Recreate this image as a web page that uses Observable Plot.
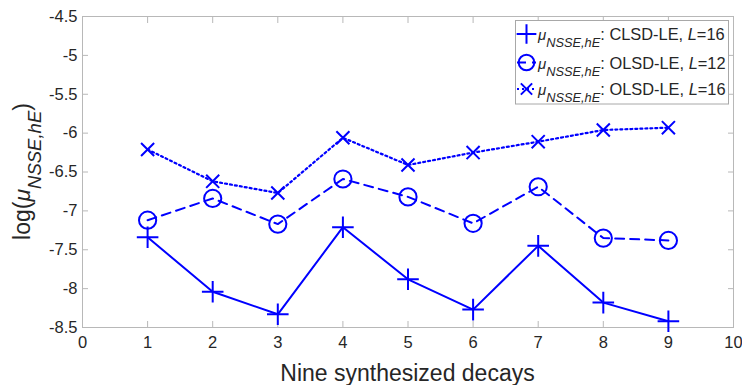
<!DOCTYPE html>
<html>
<head>
<meta charset="utf-8">
<script src="https://cdn.jsdelivr.net/npm/d3@7"></script>
<script src="https://cdn.jsdelivr.net/npm/@observablehq/plot@0.6"></script>
<style>
  body { margin: 0; background: #fff; }
  #chart { width: 742px; height: 385px; }
</style>
</head>
<body>
<div id="chart"></div>
<script>
// ---- data ----
const decays = [1, 2, 3, 4, 5, 6, 7, 8, 9];
const clsdL16 = [-7.34, -8.04, -8.33, -7.21, -7.88, -8.27, -7.45, -8.18, -8.42];
const olsdL12 = [-7.12, -6.84, -7.17, -6.59, -6.82, -7.16, -6.69, -7.35, -7.38];
const olsdL16 = [-6.21, -6.62, -6.77, -6.06, -6.41, -6.25, -6.11, -5.96, -5.93];
const xTicks = [0, 1, 2, 3, 4, 5, 6, 7, 8, 9, 10];
const yTicks = [-8.5, -8, -7.5, -7, -6.5, -6, -5.5, -5, -4.5];
const seriesMethod = ["CLSD-LE", "OLSD-LE", "OLSD-LE"];
const seriesL = ["16", "12", "16"];
const seriesSymbol = ["plus", "circle", "times"];
const seriesDash = [null, "9,6", "2,3"];
const xLabel = "Nine synthesized decays";

const BLUE = "#0000ff";
const AXIS = "#b8b8b8";
const TEXT = "#262626";
const FONT = "'Liberation Sans', Arial, Helvetica, sans-serif";

const seriesValues = [clsdL16, olsdL12, olsdL16];
const tables = seriesValues.map(vals => decays.map((d, i) => ({x: d, y: vals[i]})));
const symbolR = [7, 8.6, 6];
const lineW = [2, 2, 2.2];

const marks = [
  Plot.frame({stroke: AXIS}),
  Plot.axisX(xTicks, {anchor: "bottom", tickSize: -6, tickFormat: () => "", color: AXIS, label: null}),
  Plot.axisX(xTicks, {anchor: "top", tickSize: -6, tickFormat: () => "", color: AXIS, label: null}),
  Plot.axisY(yTicks, {anchor: "left", tickSize: -6, tickFormat: () => "", color: AXIS, label: null}),
  Plot.axisY(yTicks, {anchor: "right", tickSize: -6, tickFormat: () => "", color: AXIS, label: null}),
  Plot.axisX(xTicks, {anchor: "bottom", tickSize: 0, tickPadding: 9, tickFormat: d => String(d), color: TEXT, label: null}),
  Plot.axisY(yTicks, {anchor: "left", tickSize: 0, tickPadding: 5, tickFormat: d => String(d), color: TEXT, label: null})
];
tables.forEach((t, k) => {
  marks.push(Plot.line(t, {x: "x", y: "y", stroke: BLUE, strokeWidth: lineW[k], strokeDasharray: seriesDash[k]}));
  marks.push(Plot.dot(t, {x: "x", y: "y", symbol: seriesSymbol[k], r: symbolR[k], stroke: BLUE, strokeWidth: 2, fill: "none"}));
});

const svgEl = Plot.plot({
  width: 742,
  height: 385,
  marginLeft: 82,
  marginRight: 9,
  marginTop: 16,
  marginBottom: 58,
  style: {fontFamily: FONT, fontSize: "16.5px", color: TEXT, background: "white", overflow: "visible"},
  x: {domain: [0, 10], label: null},
  y: {domain: [-8.5, -4.5], label: null},
  marks
});
document.getElementById("chart").appendChild(svgEl);

const svg = d3.select(svgEl);

// x axis title
svg.append("text")
  .attr("x", (82 + 733) / 2).attr("y", 381)
  .attr("text-anchor", "middle")
  .attr("font-family", FONT).attr("font-size", 23).attr("fill", TEXT)
  .text(xLabel);

// y axis title: log(μ_{NSSE,hE})
const yl = svg.append("text")
  .attr("transform", "translate(30,171.5) rotate(-90)")
  .attr("text-anchor", "middle")
  .attr("font-family", FONT).attr("font-size", 23).attr("fill", TEXT);
yl.append("tspan").text("log(");
yl.append("tspan").attr("font-style", "italic").text("μ");
yl.append("tspan").attr("font-style", "italic").attr("font-size", 18.5).attr("dy", 11).text("NSSE,hE");
yl.append("tspan").attr("dy", -11).text(")");

// legend
const lg = svg.append("g").attr("text-anchor", "start");
lg.append("rect")
  .attr("x", 515.5).attr("y", 20.5).attr("width", 213).attr("height", 83.5)
  .attr("fill", "white").attr("stroke", "#a8a8a8").attr("stroke-width", 1);
const rowBase = [40, 68.5, 95];
const symPath = {
  plus: d3.symbol(d3.symbolPlus, Math.PI * 6.4 * 6.4)(),
  circle: d3.symbol(d3.symbolCircle, Math.PI * 7.8 * 7.8)(),
  times: d3.symbol(d3.symbolTimes, Math.PI * 5.2 * 5.2)()
};
seriesMethod.forEach((m, k) => {
  const cy = rowBase[k] - 6;
  lg.append("line").attr("x1", 517).attr("x2", 536).attr("y1", cy).attr("y2", cy)
    .attr("stroke", BLUE).attr("stroke-width", lineW[k]).attr("stroke-dasharray", seriesDash[k]);
  lg.append("path").attr("d", symPath[seriesSymbol[k]]).attr("transform", `translate(526.5,${cy})`)
    .attr("fill", "none").attr("stroke", BLUE).attr("stroke-width", 2);
  const t = lg.append("text").attr("x", 538).attr("y", rowBase[k])
    .attr("text-anchor", "start")
    .attr("font-family", FONT).attr("font-size", 16.4).attr("fill", TEXT);
  t.append("tspan").attr("font-style", "italic").attr("font-size", 15).text("μ");
  t.append("tspan").attr("font-style", "italic").attr("font-size", 12.8).attr("dy", 7).text("NSSE,hE");
  t.append("tspan").attr("dy", -7).text(": " + m + ", ");
  t.append("tspan").attr("font-style", "italic").text("L");
  t.append("tspan").text("=" + seriesL[k]);
});
</script>
</body>
</html>
